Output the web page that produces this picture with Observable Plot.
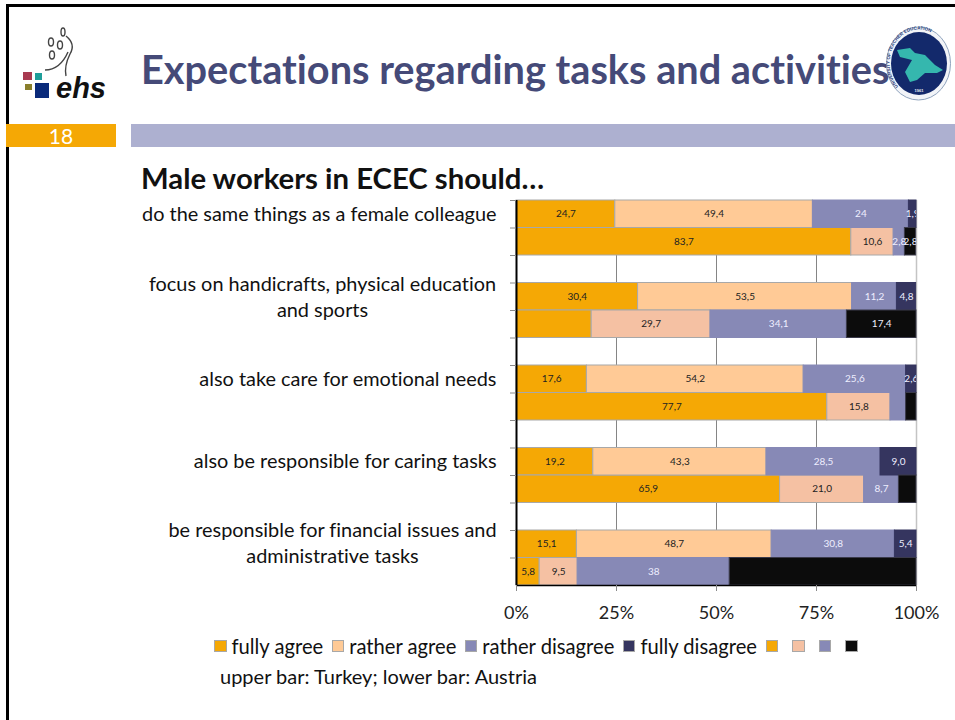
<!DOCTYPE html>
<html>
<head>
<meta charset="utf-8">
<script src="https://cdn.jsdelivr.net/npm/d3@7"></script>
<script src="https://cdn.jsdelivr.net/npm/@observablehq/plot@0.6"></script>
<style>
html,body{margin:0;padding:0;background:#fff;}
body{width:955px;height:720px;position:relative;overflow:hidden;font-family:Lato,"Open Sans",sans-serif;color:#111;font-variant-ligatures:none;}
.abs{position:absolute;white-space:nowrap;}
#legend{display:flex;align-items:center;font-size:20.2px;line-height:24px;}
#legend i{display:inline-block;width:12.5px;height:12.5px;box-sizing:border-box;border:1px solid #a8a8a8;}
#chart svg{display:block;overflow:visible;font-variant-ligatures:none;}
</style>
</head>
<body>
<div class="abs" style="left:6px;top:4px;width:949px;height:3px;background:#000"></div>
<div class="abs" style="left:6px;top:4px;width:3px;height:716px;background:#000"></div>

<svg class="abs" style="left:18px;top:24px" width="95" height="80" viewBox="18 24 95 80">
  <g fill="none" stroke="#444" stroke-width="1.4">
    <ellipse cx="63" cy="32" rx="2" ry="4"/>
    <ellipse cx="51" cy="42" rx="2.5" ry="4"/>
    <ellipse cx="60" cy="45" rx="2.5" ry="4"/>
    <ellipse cx="52" cy="55" rx="2.5" ry="4"/>
    <path d="M66 36 Q76 44 70 54 Q64 66 66 76"/>
    <path d="M45 70 Q60 70 68 52"/>
  </g>
  <rect x="23" y="72" width="9" height="8" fill="#a83a50"/>
  <rect x="35" y="73" width="7" height="7" fill="#1f9e9a"/>
  <rect x="25" y="84" width="7" height="6" fill="#8a7f2c"/>
  <rect x="35" y="83" width="14" height="15" fill="#0a2a7a"/>
  <text x="56" y="97.5" font-family="Liberation Sans" font-weight="700" font-style="italic" font-size="29" fill="#111">ehs</text>
</svg>

<div class="abs" id="title" style="left:141px;top:44px;font-size:39.7px;font-weight:700;color:#454a78;line-height:50px">Expectations regarding tasks and activities</div>

<svg class="abs" style="left:880px;top:20px" width="75" height="85" viewBox="880 20 75 85">
  <defs><path id="rim" d="M919 96.5 A29.5 33.5 0 1 1 919.1 96.5"/></defs>
  <ellipse cx="918.5" cy="63.5" rx="32" ry="36.5" fill="#f2f4f8" stroke="#8fa3bd" stroke-width="1"/>
  <ellipse cx="919" cy="63.5" rx="28" ry="31.5" fill="#13296b"/>
  <path d="M897 50 L910 48 L915 53 L925 55 L935 65 L943 70 L937 73 L925 73 L917 80 L910 82 L905 72 L912 60 L900 57 Z" fill="#35b7ae"/>
  <text font-size="4.6" font-family="Liberation Sans" font-weight="700" fill="#233a78"><textPath href="#rim" startOffset="12%">UNIVERSITY OF TEACHER EDUCATION</textPath></text>
  <text x="919" y="92" font-size="4" text-anchor="middle" font-family="Liberation Sans" font-weight="700" fill="#e8ecf4">1961</text>
</svg>

<div class="abs" style="left:6px;top:124px;width:110px;height:23px;background:#f5a805;color:#fff;font-size:21px;line-height:23px;text-align:center">18</div>
<div class="abs" style="left:131px;top:124px;width:824px;height:23px;background:#adb0d0"></div>

<div class="abs" style="left:141px;top:160px;font-size:29.3px;font-weight:700;line-height:36px;color:#111">Male workers in ECEC should…</div>

<div class="abs" id="chart" style="left:0;top:190px"></div>

<div class="abs" id="legend" style="left:214px;top:634px"></div>
<div class="abs" style="left:220px;top:664px;font-size:20px;line-height:24px;color:#111">upper bar: Turkey; lower bar: Austria</div>

<script>
const questions = [
  "do the same things as a female colleague",
  "focus on handicrafts, physical education\nand sports",
  "also take care for emotional needs",
  "also be responsible for caring tasks",
  "be responsible for financial issues and\nadministrative tasks"
];
const answers = ["fully agree", "rather agree", "rather disagree", "fully disagree"];

const turkeyValues = [
  [24.7, 49.4, 24, 1.9],
  [30.4, 53.5, 11.2, 4.8],
  [17.6, 54.2, 25.6, 2.6],
  [19.2, 43.3, 28.5, 9.0],
  [15.1, 48.7, 30.8, 5.4]
];
const austriaValues = [
  [83.7, 10.6, 2.8, 2.8],
  [18.8, 29.7, 34.1, 17.4],
  [77.7, 15.8, 3.9, 2.6],
  [65.9, 21.0, 8.7, 4.4],
  [5.8, 9.5, 38, 46.7]
];
const turkeyLabels = [
  ["24,7", "49,4", "24", "1,9"],
  ["30,4", "53,5", "11,2", "4,8"],
  ["17,6", "54,2", "25,6", "2,6"],
  ["19,2", "43,3", "28,5", "9,0"],
  ["15,1", "48,7", "30,8", "5,4"]
];
const austriaLabels = [
  ["83,7", "10,6", "2,8", "2,8"],
  [null, "29,7", "34,1", "17,4"],
  ["77,7", "15,8", null, null],
  ["65,9", "21,0", "8,7", null],
  ["5,8", "9,5", "38", null]
];
const turkeyFill = ["#f5a805", "#ffca96", "#8789b6", "#35355f"];
const austriaFill = ["#f5a805", "#f5c1a3", "#8789b6", "#0c0c0c"];
const strokes = ["#a8a8a8", "#a8a8a8", "#8789b6", null];
const textFill = ["#222", "#222", "#eef", "#eef"];
const xTicks = [0, 25, 50, 75, 100];

const rows = questions.flatMap((q, i) =>
  i < questions.length - 1 ? [`T${i}`, `A${i}`, `gap${i}`] : [`T${i}`, `A${i}`]);

const segments = [];
questions.forEach((q, i) => answers.forEach((a, j) => {
  segments.push({row: `T${i}`, answer: a, value: turkeyValues[i][j], label: turkeyLabels[i][j],
    fill: turkeyFill[j], stroke: strokes[j] ?? turkeyFill[j], ink: textFill[j]});
  segments.push({row: `A${i}`, answer: a, value: austriaValues[i][j], label: austriaLabels[i][j],
    fill: austriaFill[j], stroke: j === 3 ? "#3a3a4a" : (strokes[j] ?? austriaFill[j]), ink: textFill[j]});
}));
const questionRows = questions.map((q, i) => ({row: `T${i}`, text: q, two: q.includes("\n")}));

const rowStep = 385 / rows.length;
const twoLineLabel = (d, dx, dy) => Plot.text([d], {
  y: "row", text: "text", frameAnchor: "left", dx, dy, textAnchor: "middle", fontSize: 19.9, fill: "#111", lineHeight: 1.32
});

const chart = Plot.plot({
  width: 955,
  height: 440,
  marginLeft: 516,
  marginRight: 39,
  marginTop: 10,
  marginBottom: 45,
  style: {fontFamily: "Lato, sans-serif", background: "transparent", overflow: "visible"},
  x: {domain: [0, 100], axis: null},
  y: {domain: rows, type: "band", padding: 0, round: false, axis: null},
  marks: [
    Plot.ruleX([25, 50, 75], {stroke: "#858585", strokeWidth: 1, strokeOpacity: 1}),
    Plot.ruleX([100], {stroke: "#c4c4c4", strokeWidth: 1.5, strokeOpacity: 1}),
    Plot.barX(segments, Plot.stackX({
      x: "value", y: "row", z: "answer", order: null,
      fill: {value: d => d.fill, scale: null},
      stroke: {value: d => d.stroke, scale: null},
      strokeWidth: 1
    })),
    Plot.text(segments, Plot.stackX({
      x: "value", y: "row", z: "answer", order: null, text: "label",
      fill: {value: d => d.ink, scale: null},
      fontSize: 10, clip: "frame"
    })),
    Plot.ruleX([0], {stroke: "#000", strokeWidth: 2, strokeOpacity: 1}),
    Plot.ruleY(rows.slice(-1), {stroke: "#000", strokeWidth: 1.5, strokeOpacity: 1, dy: rowStep / 2}),
    Plot.axisY({ticks: rows, tickSize: 6, tickFormat: () => "", label: null, stroke: "#8a8a8a", dy: -rowStep / 2}),
    Plot.axisX({ticks: xTicks, tickSize: 6, tickPadding: 15, tickFormat: d => `${d}%`, label: null, stroke: "#8a8a8a", fontSize: 18, fill: "#222", textStroke: "none"}),
    Plot.text(questionRows.filter(d => !d.two), {
      y: "row", text: "text", frameAnchor: "left", dx: -20, textAnchor: "end", fontSize: 19.9, fill: "#111"
    }),
    twoLineLabel(questionRows[1], -194, -1),
    twoLineLabel(questionRows[4], -184, -3)
  ]
});
document.getElementById("chart").appendChild(chart);

const legend = document.getElementById("legend");
answers.forEach((a, j) => {
  const sw = document.createElement("i");
  sw.style.background = turkeyFill[j];
  sw.style.marginRight = "5px";
  legend.appendChild(sw);
  const t = document.createElement("span");
  t.textContent = a;
  t.style.marginRight = "8.5px";
  legend.appendChild(t);
});
austriaFill.forEach(c => {
  const sw = document.createElement("i");
  sw.style.background = c;
  sw.style.marginRight = "14px";
  legend.appendChild(sw);
});
</script>
</body>
</html>
